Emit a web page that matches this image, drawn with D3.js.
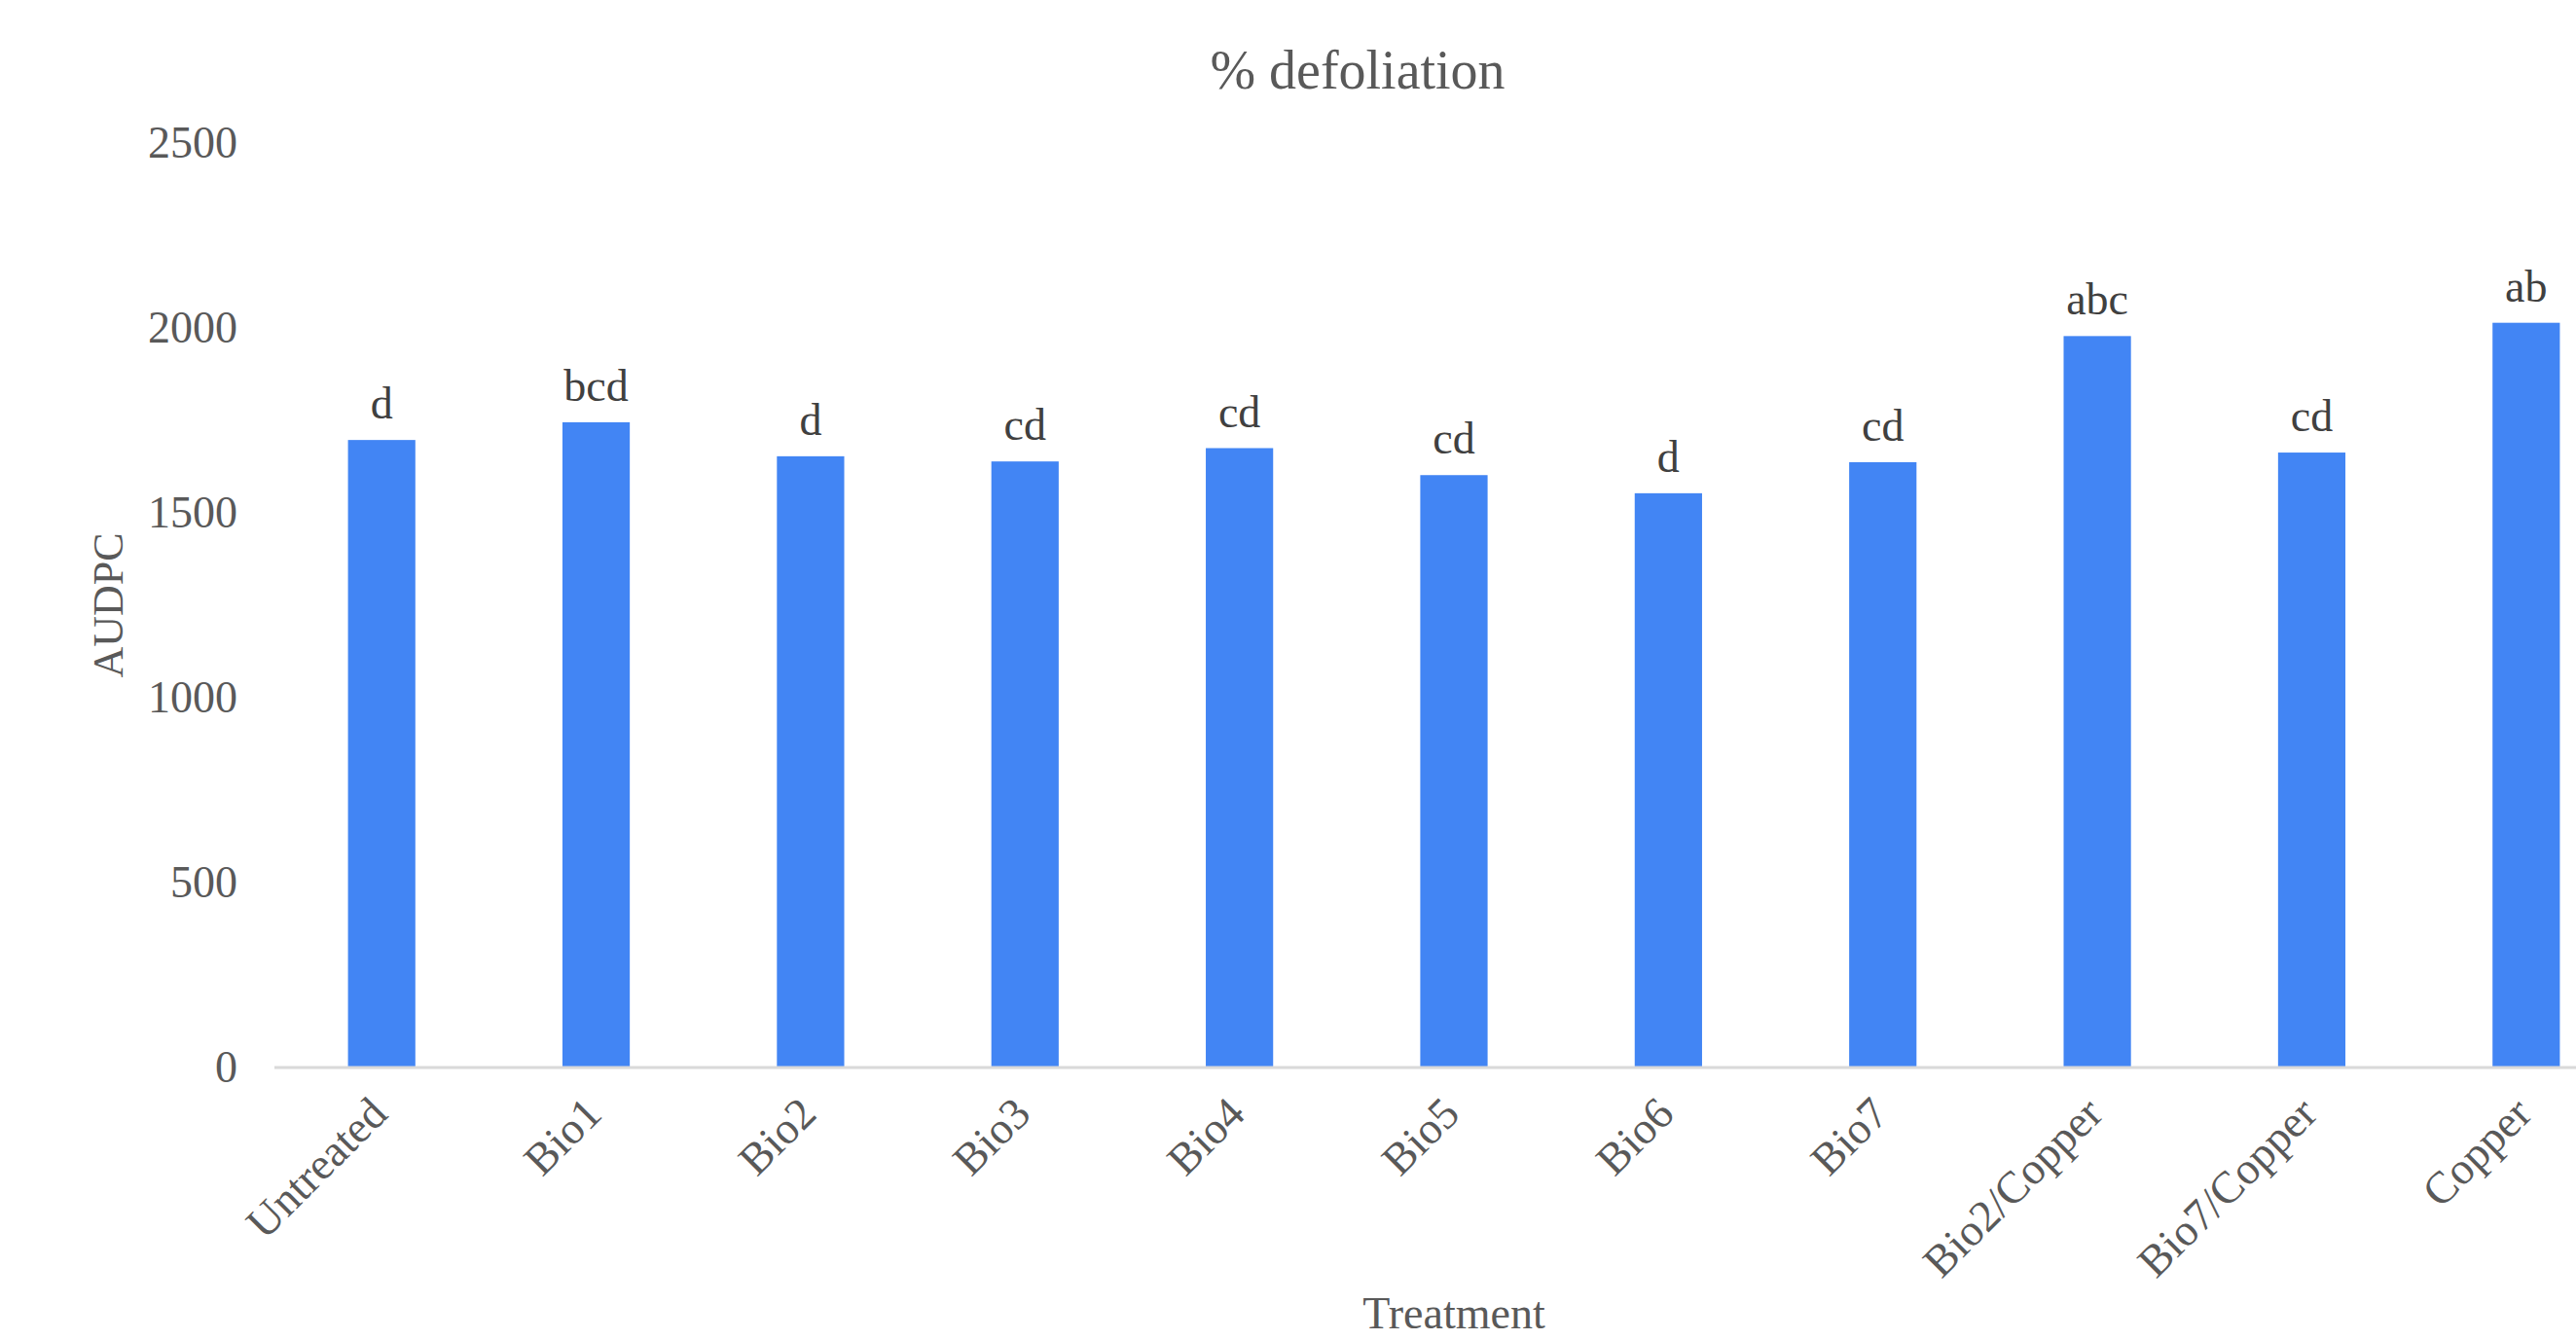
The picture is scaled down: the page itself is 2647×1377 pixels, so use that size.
<!DOCTYPE html>
<html>
<head>
<meta charset="utf-8">
<script src="https://cdn.jsdelivr.net/npm/d3@7"></script>
<style>
  body { margin: 0; background: #fff; }
  svg { display: block; font-family: "Liberation Serif", "DejaVu Serif", serif; }
</style>
</head>
<body>
<div id="chart"></div>
<script>
const treatments = ["Untreated", "Bio1", "Bio2", "Bio3", "Bio4", "Bio5", "Bio6", "Bio7", "Bio2/Copper", "Bio7/Copper", "Copper"];
const audpc = [1697, 1745, 1653, 1639, 1675, 1602, 1553, 1637, 1978, 1663, 2014];
const groups = ["d", "bcd", "d", "cd", "cd", "cd", "d", "cd", "abc", "cd", "ab"];
const yTicks = [0, 500, 1000, 1500, 2000, 2500];

const width = 2647;
const height = 1377;
const margin = { top: 147, left: 282, bottom: 280 };
const plotRight = 2706; // plot area runs past the right edge, as in the source

const svg = d3.select("#chart")
  .append("svg")
  .attr("width", width)
  .attr("height", height)
  .attr("viewBox", [0, 0, width, height]);

const x = d3.scaleBand()
  .domain(treatments)
  .range([margin.left, plotRight])
  .paddingInner(0.686)
  .paddingOuter(0.343);

const y = d3.scaleLinear()
  .domain([0, 2500])
  .range([height - margin.bottom, margin.top]);

// title
svg.append("text")
  .attr("x", 1395)
  .attr("y", 91)
  .attr("text-anchor", "middle")
  .attr("fill", "#595959")
  .style("font-size", "56px")
  .text("% defoliation");

// y axis (labels only)
const yAxis = svg.append("g")
  .attr("transform", `translate(${margin.left},0)`)
  .call(d3.axisLeft(y).tickValues(yTicks).tickSize(0).tickPadding(38).tickFormat(d3.format("d")))
  .attr("font-family", null)
  .attr("font-size", null);
yAxis.select(".domain").remove();
yAxis.selectAll(".tick text")
  .attr("fill", "#595959")
  .style("font-size", "46px");

// bars
svg.append("g")
  .selectAll("rect")
  .data(treatments)
  .join("rect")
  .attr("x", (d) => x(d))
  .attr("y", (d, i) => y(audpc[i]))
  .attr("width", x.bandwidth())
  .attr("height", (d, i) => y(0) - y(audpc[i]))
  .attr("fill", "#4285f4");

// significance letters
svg.append("g")
  .selectAll("text")
  .data(treatments)
  .join("text")
  .attr("x", (d) => x(d) + x.bandwidth() / 2)
  .attr("y", (d, i) => y(audpc[i]) - 22)
  .attr("text-anchor", "middle")
  .attr("fill", "#404040")
  .style("font-size", "46px")
  .text((d, i) => groups[i]);

// baseline
svg.append("line")
  .attr("x1", margin.left)
  .attr("x2", plotRight)
  .attr("y1", y(0))
  .attr("y2", y(0))
  .attr("stroke", "#d9d9d9")
  .attr("stroke-width", 3);

// x axis labels
const xAxis = svg.append("g")
  .attr("transform", `translate(0,${y(0)})`)
  .call(d3.axisBottom(x).tickSize(0))
  .attr("font-family", null)
  .attr("font-size", null);
xAxis.select(".domain").remove();
xAxis.selectAll(".tick text")
  .attr("y", null)
  .attr("dy", null)
  .attr("transform", "translate(8,50) rotate(-45)")
  .attr("text-anchor", "end")
  .attr("fill", "#595959")
  .style("font-size", "46px");

// axis titles
svg.append("text")
  .attr("x", (margin.left + plotRight) / 2)
  .attr("y", 1365)
  .attr("text-anchor", "middle")
  .attr("fill", "#595959")
  .style("font-size", "46px")
  .text("Treatment");

svg.append("text")
  .attr("transform", `translate(126,${(y(0) + y(2500)) / 2}) rotate(-90)`)
  .attr("text-anchor", "middle")
  .attr("fill", "#595959")
  .style("font-size", "44px")
  .text("AUDPC");
</script>
</body>
</html>
